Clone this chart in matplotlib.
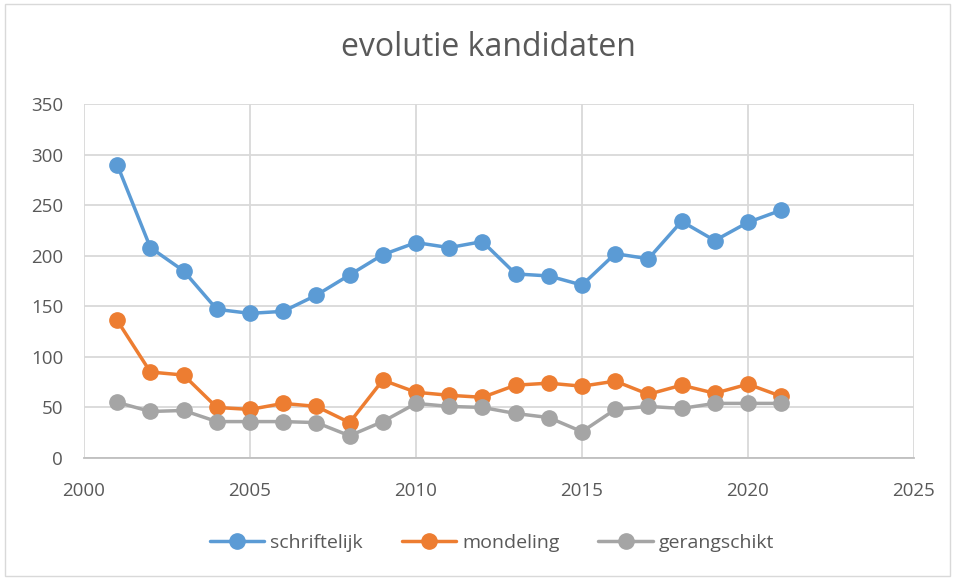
import matplotlib
matplotlib.use("Agg")
import matplotlib.pyplot as plt
from matplotlib.patches import Rectangle

years = list(range(2001, 2022))
schriftelijk = [290, 208, 185, 147, 143, 145, 161, 181, 201, 213, 208, 214,
                182, 180, 171, 202, 197, 234, 215, 233, 245]
mondeling = [136, 85, 82, 50, 48, 54, 51, 35, 77, 65, 62, 60,
             72, 74, 71, 76, 63, 72, 64, 73, 61]
gerangschikt = [55, 46, 47, 36, 36, 36, 35, 22, 36, 54, 51, 50,
                44, 40, 26, 48, 51, 49, 54, 54, 54]
series_names = ["schriftelijk", "mondeling", "gerangschikt"]
colors = ["#5B9BD5", "#ED7D31", "#A5A5A5"]
title = "evolutie kandidaten"

plt.rcParams['font.family'] = ['Open Sans', 'DejaVu Sans']
W, H = 955, 578
fig = plt.figure(figsize=(W/100, H/100), dpi=100)
ax = fig.add_axes([84/W, (H-458)/H, (914-84)/W, (458-104)/H])

for name, vals, c in zip(series_names, [schriftelijk, mondeling, gerangschikt], colors):
    ax.plot(years, vals, color=c, lw=2.5, marker='o', markersize=11, label=name,
            solid_capstyle='round', clip_on=False, zorder=3)

ax.set_xlim(2000, 2025)
ax.set_ylim(0, 350)
ax.set_xticks(range(2000, 2026, 5))
ax.set_yticks(range(0, 351, 50))
ax.grid(True, color="#D9D9D9", lw=1.3)
ax.set_axisbelow(True)
for s in ['top', 'right', 'left']:
    ax.spines[s].set_visible(False)
ax.spines['bottom'].set_color("#BFBFBF")
ax.spines['bottom'].set_linewidth(1.3)
ax.tick_params(length=0, labelsize=13.5, labelcolor="#595959")
ax.tick_params(axis='x', pad=17)
ax.tick_params(axis='y', pad=15)

fig.suptitle(title, x=488/W, y=1-48/H, va='center', fontsize=23, color="#595959")

leg = fig.legend(loc='center', bbox_to_anchor=(492/W, 1-543/H), ncol=3, frameon=False,
                 fontsize=14, labelcolor="#595959", handlelength=2.8, columnspacing=2.0,
                 handletextpad=0.3)

fig.patches.append(Rectangle((5/W, 2/H), (950-5)/W, (574-2)/H, transform=fig.transFigure,
                             fill=False, edgecolor="#D9D9D9", lw=1))
fig.savefig("out.png", dpi=100)
